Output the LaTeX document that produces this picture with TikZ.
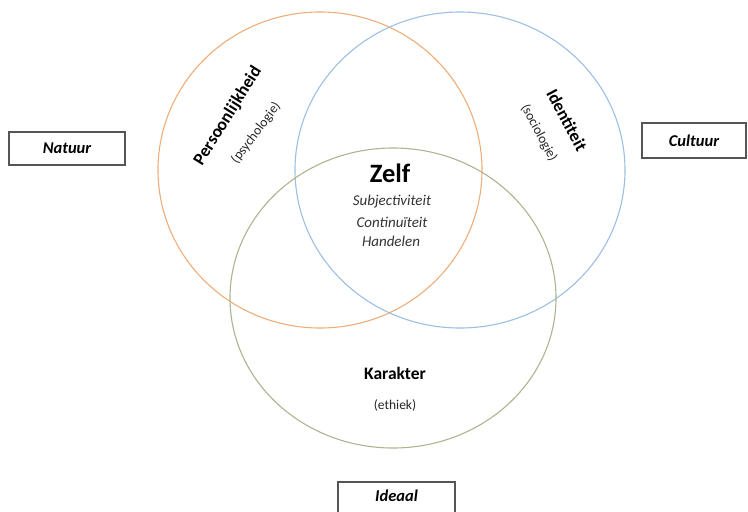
\documentclass[tikz,border=0pt]{standalone}
\usepackage{fontspec}
\setmainfont{Carlito}
\definecolor{corange}{HTML}{F0AD78}
\definecolor{cblue}{HTML}{9DBFE3}
\definecolor{cgreen}{HTML}{ABB690}
\definecolor{cbox}{HTML}{555555}
\begin{document}
\begin{tikzpicture}[x=1pt,y=-1pt,
  ring/.style={line width=1.1pt},
  labbox/.style={draw=cbox,line width=1.3pt,fill=white,inner sep=0pt,font=\fontsize{16.5}{19}\selectfont\bfseries\itshape},
  title/.style={font=\fontsize{17.5}{20}\selectfont\bfseries},
  sub/.style={font=\fontsize{13.5}{16}\selectfont,text=black!85},
  itl/.style={font=\fontsize{15}{18}\selectfont\itshape,text=black!80}]
\useasboundingbox (0,0) rectangle (748,512);
% circles
\draw[ring,corange] (320,170) ellipse [x radius=162, y radius=158];
\draw[ring,cblue] (460,170) ellipse [x radius=165, y radius=158];
\draw[ring,cgreen] (393,298) ellipse [x radius=163, y radius=150];
% boxes
\node[labbox,minimum width=116pt,minimum height=33pt] (natuur) at (67,148.5) {Natuur};
\node[labbox,minimum width=104pt,minimum height=35pt] (cultuur) at (694,140.5) {Cultuur};
\node[labbox,minimum width=117pt,minimum height=40pt] (ideaal) at (396.5,502) {};
\node[font=\fontsize{16.5}{19}\selectfont\bfseries\itshape] (ideaaltxt) at (396.5,496) {Ideaal};
% circle labels
\node[title,rotate=58] (pers) at (228,116) {Persoonlijkheid};
\node[sub,rotate=53] (psy) at (256,133) {(psychologie)};
\node[title,rotate=-62] (ident) at (567,120) {Identiteit};
\node[sub,rotate=-62] (soc) at (539,133) {(sociologie)};
\node[title] (kar) at (395,373) {Karakter};
\node[sub] (eth) at (395,405) {(ethiek)};
% center
\node[font=\fontsize{26.5}{30}\selectfont\bfseries] (zelf) at (390,173) {Zelf};
\node[itl] (s1) at (392,202) {Subjectiviteit};
\node[itl] (s2) at (392,222) {Continuïteit};
\node[itl] (s3) at (391,241) {Handelen};
\end{tikzpicture}
\end{document}
